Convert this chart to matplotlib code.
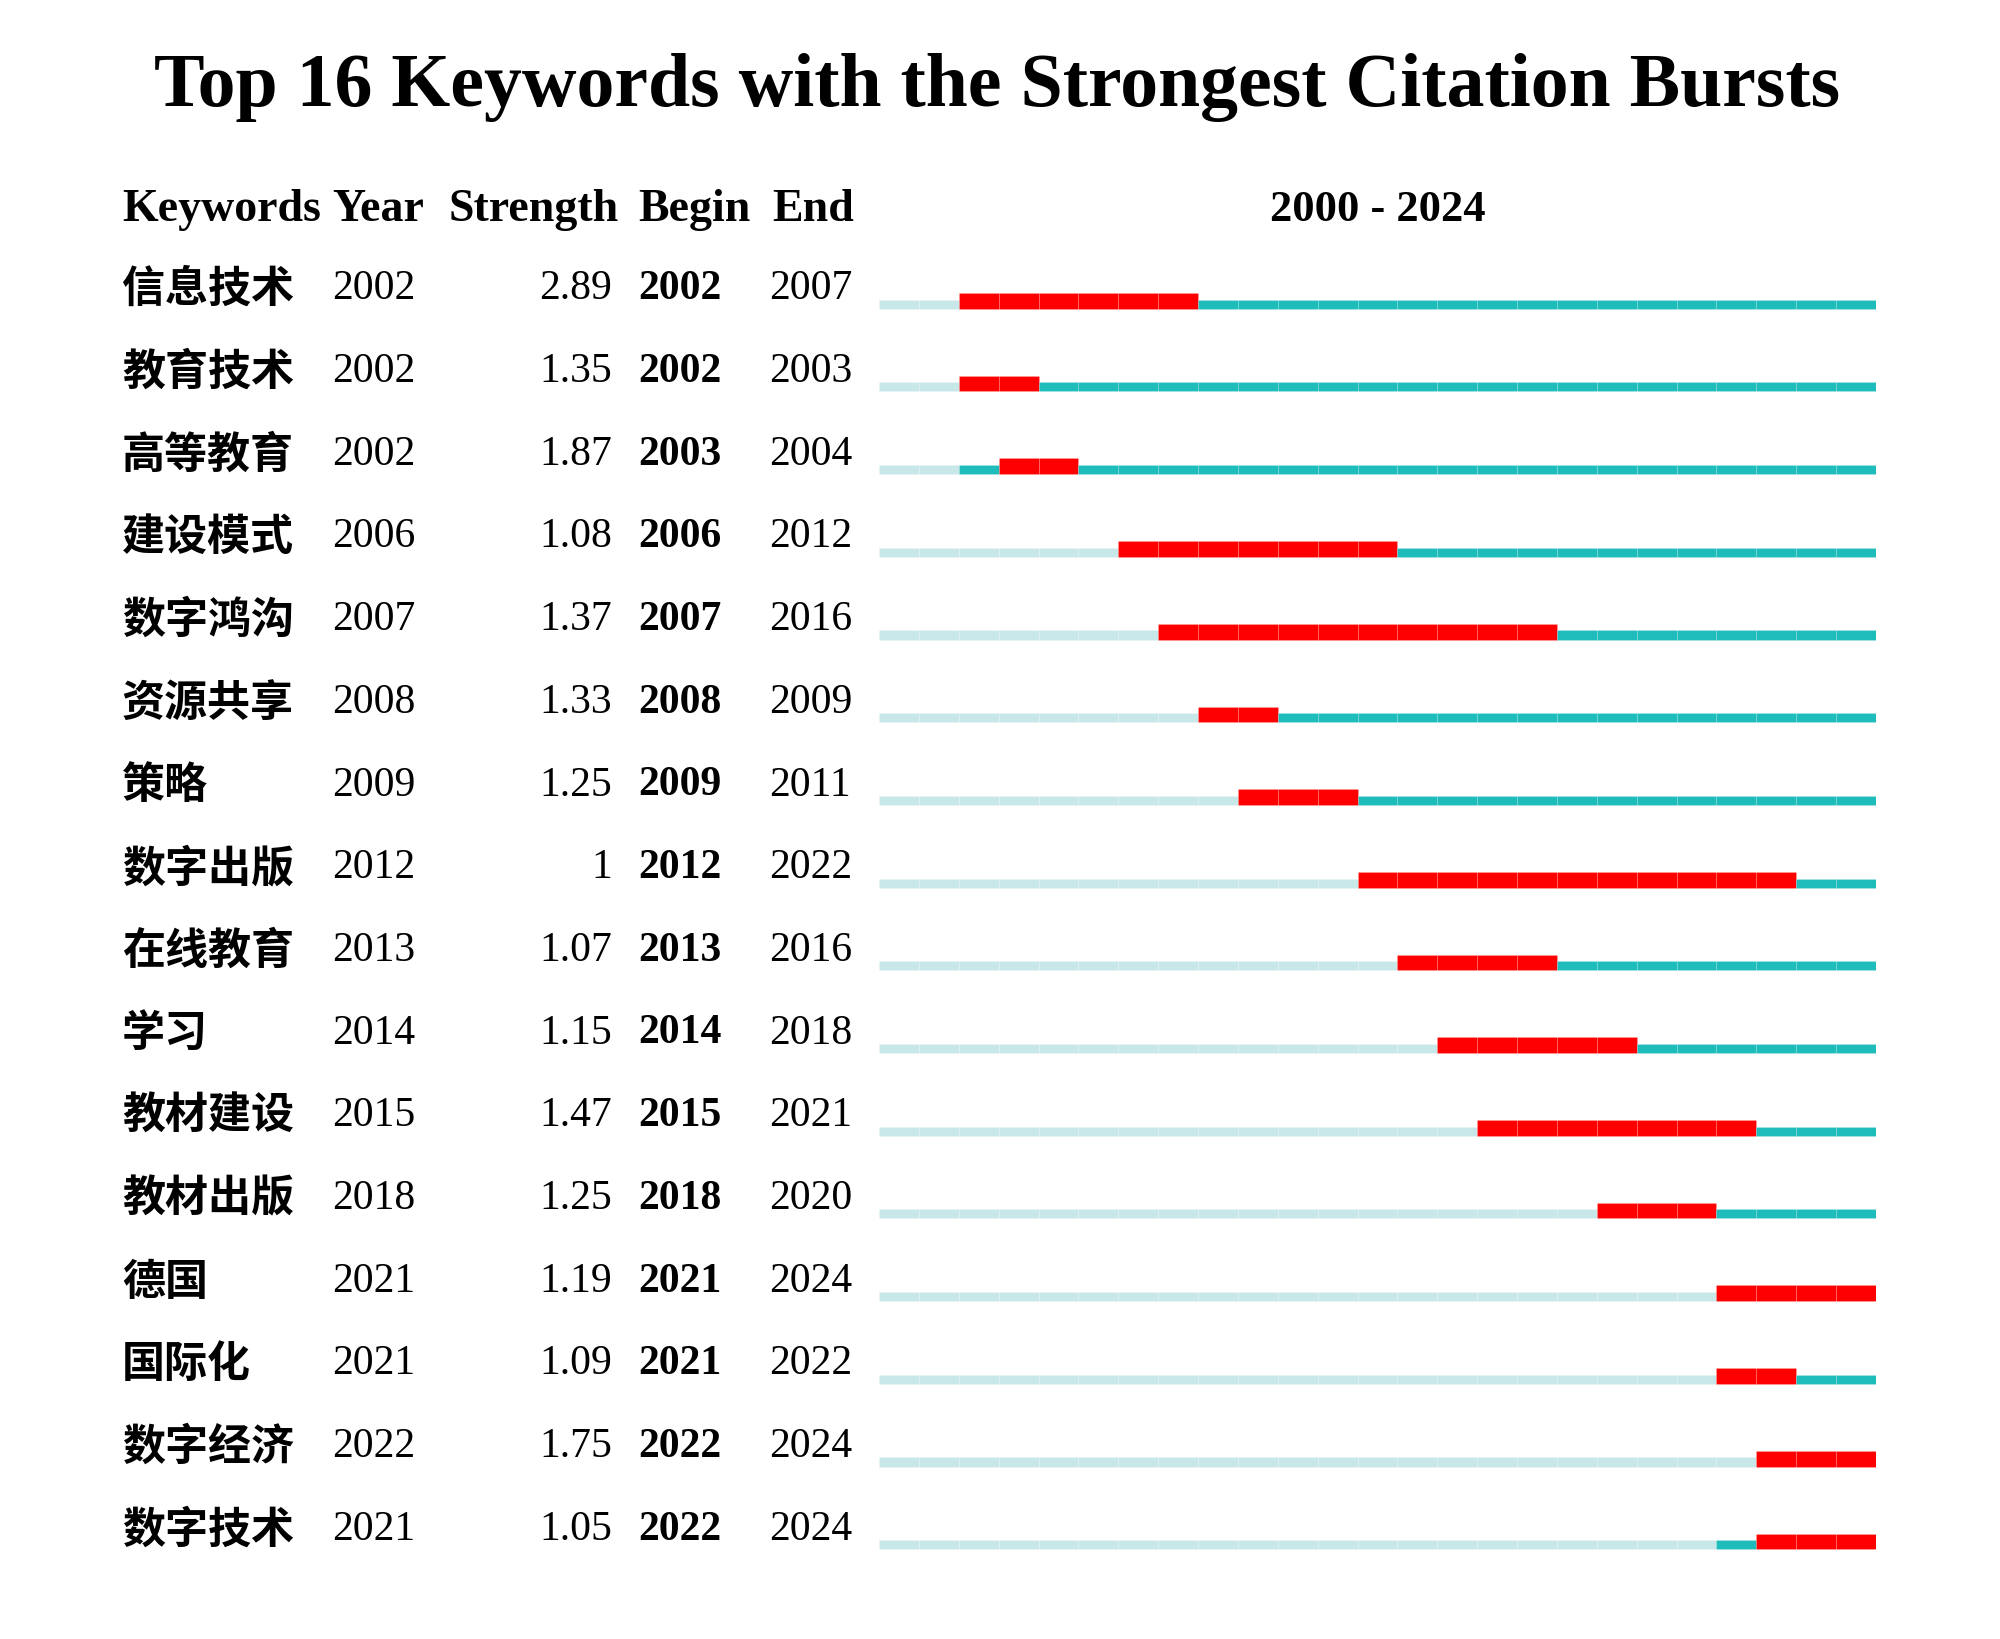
import matplotlib
matplotlib.use('Agg')
import matplotlib.pyplot as plt
from matplotlib.transforms import blended_transform_factory

plt.rcParams['font.family'] = ['Liberation Serif', 'Noto Sans CJK SC', 'DejaVu Sans']

# burst table
keywords = ['信息技术', '教育技术', '高等教育', '建设模式', '数字鸿沟', '资源共享', '策略', '数字出版',
            '在线教育', '学习', '教材建设', '教材出版', '德国', '国际化', '数字经济', '数字技术']
years = [2002, 2002, 2002, 2006, 2007, 2008, 2009, 2012, 2013, 2014, 2015, 2018, 2021, 2021, 2022, 2021]
strength = [2.89, 1.35, 1.87, 1.08, 1.37, 1.33, 1.25, 1.0, 1.07, 1.15, 1.47, 1.25, 1.19, 1.09, 1.75, 1.05]
begins = [2002, 2002, 2003, 2006, 2007, 2008, 2009, 2012, 2013, 2014, 2015, 2018, 2021, 2021, 2022, 2022]
ends = [2007, 2003, 2004, 2012, 2016, 2009, 2011, 2022, 2016, 2018, 2021, 2020, 2024, 2022, 2024, 2024]
first_year, last_year = 2000, 2024
headers = ['Keywords', 'Year', 'Strength', 'Begin', 'End']

light = '#c8e7e9'
teal = '#1fbcbc'
red = '#ff0000'

W, H = 2000, 1640
fig = plt.figure(figsize=(W / 100, H / 100), dpi=100)

n = len(keywords)
row_px = 82.7
top_px = 304 - row_px / 2
bot_px = 304 + (n - 1) * row_px + row_px / 2
ax = fig.add_axes([879 / W, 1 - bot_px / H, (1876 - 879) / W, (bot_px - top_px) / H])
ax.set_xlim(first_year, last_year + 1)
ax.set_ylim(n - 0.5, -0.5)
ax.axis('off')

thin = 0.11
thick = 0.19
for i in range(n):
    for yr in range(first_year, last_year + 1):
        if begins[i] <= yr <= ends[i]:
            c, h = red, thick
        elif yr < years[i]:
            c, h = light, thin
        else:
            c, h = teal, thin
        ax.barh(i + 0.07, 1, left=yr, height=-h, align='edge', color=c,
                edgecolor=(1, 1, 1, 0.2), linewidth=0.5)

# text columns share the row scale of the bar axes
tr = blended_transform_factory(fig.transFigure, ax.transData)
ty = -0.18
for i in range(n):
    fig.text(122 / W, i + ty, keywords[i], transform=tr, ha='left', va='center',
             family=['Noto Sans CJK SC'], fontweight='bold', fontsize=31)
    fig.text(332 / W, i + ty, str(years[i]), transform=tr, ha='left', va='center', fontsize=30)
    fig.text(612 / W, i + ty, f'{strength[i]:g}', transform=tr, ha='right', va='center', fontsize=30)
    fig.text(638 / W, i + ty, str(begins[i]), transform=tr, ha='left', va='center',
             fontsize=30, fontweight='bold')
    fig.text(769 / W, i + ty, str(ends[i]), transform=tr, ha='left', va='center', fontsize=30)

hy = -1.14
for x, lab in zip([122, 332, 449, 638, 772], headers):
    fig.text(x / W, hy, lab, transform=tr, ha='left', va='center', fontsize=33, fontweight='bold')
fig.text(1378 / W, hy, f'{first_year} - {last_year}', transform=tr, ha='center', va='center',
         fontsize=32, fontweight='bold')

fig.text(0.4985, 1 - 88 / H, 'Top 16 Keywords with the Strongest Citation Bursts',
         ha='center', va='center', fontsize=54.5, fontweight='bold')

fig.savefig('out.png', dpi=100, facecolor='white')
